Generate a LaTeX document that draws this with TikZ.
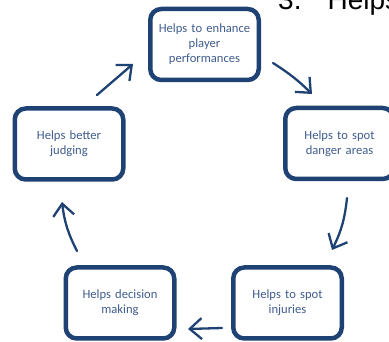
\documentclass[tikz,border=0pt]{standalone}
\usepackage{fontspec}
\setmainfont{Carlito}
\newfontfamily\headfont{Liberation Sans}
\usetikzlibrary{arrows.meta}
\definecolor{boxblue}{HTML}{1E4273}
\definecolor{txtblue}{HTML}{3F5C8E}
\tikzset{
  cyclebox/.style={draw=boxblue, line width=4.5pt, rounded corners=11pt,
    minimum width=108.5pt, minimum height=71pt, inner sep=2pt,
    align=center, text width=104pt, text=txtblue,
    font=\fontsize{12.6}{15}\selectfont},
  cyclearrow/.style={draw=boxblue, line width=2.3pt, line cap=round,
    -{Straight Barb[length=12pt, width=21pt, line width=2.3pt]}}
}
\begin{document}
\begin{tikzpicture}[x=1pt, y=-1pt]
\useasboundingbox (0,0) rectangle (389,342);
\clip (0,0) rectangle (389,342);
\node[cyclebox] (top) at (204.5,44.5) {Helps to enhance\\player\\performances};
\node[cyclebox] (right) at (339.5,143.5) {Helps to spot\\danger areas};
\node[cyclebox] (bright) at (287.5,303) {Helps to spot\\injuries};
\node[cyclebox] (bleft) at (120,303) {Helps decision\\making};
\node[cyclebox] (left) at (69,144) {Helps better\\judging};
\node[anchor=base west, inner sep=0pt, font=\headfont\fontsize{28}{30}\selectfont]
  (head) at (278,10) {3.\hspace{26pt}Helps};
\coordinate (a1) at (97,95);   \coordinate (a2) at (133,64);
\coordinate (b1) at (273,63);  \coordinate (b2) at (312,94);
\coordinate (c1) at (347,198); \coordinate (c2) at (332,250);
\coordinate (d1) at (222,328); \coordinate (d2) at (188,329);
\coordinate (e1) at (77,251);  \coordinate (e2) at (62,202);
\draw[cyclearrow] (a1) -- (a2);
\draw[cyclearrow] (b1) to[bend left=6] (b2);
\draw[cyclearrow] (c1) to[bend left=10] (c2);
\draw[cyclearrow] (d1) -- (d2);
\draw[cyclearrow] (e1) to[bend left=10] (e2);
\end{tikzpicture}
\end{document}
